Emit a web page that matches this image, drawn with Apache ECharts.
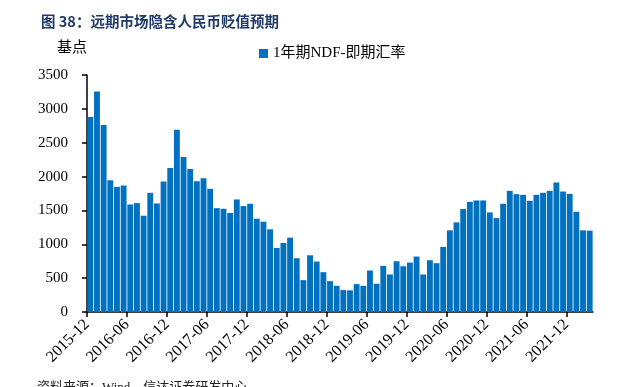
<!DOCTYPE html>
<html>
<head>
<meta charset="utf-8">
<script src="https://cdn.jsdelivr.net/npm/echarts@6/dist/echarts.min.js"></script>
<style>html,body{margin:0;padding:0;background:#fff;}#c{width:620px;height:387px;}</style>
</head>
<body>
<div id="c"></div>
<script>
// Months 2015-12 .. 2022-03 (76 bars)
var startYear = 2015, startMonth = 12, nBars = 76;
var months = [];
for (var i = 0; i <= nBars; i++) {
  var m = startMonth - 1 + i;
  var y = startYear + Math.floor(m / 12);
  var mm = (m % 12) + 1;
  months.push(y + '-' + (mm < 10 ? '0' + mm : mm));
}
var barMonths = months.slice(0, nBars);
var tickMonths = months; // 77 boundaries

var seriesName = '1年期NDF-即期汇率';
var values = [
  2880, 3255, 2760, 1946, 1848, 1868, 1588, 1608, 1422, 1760,
  1603, 1926, 2127, 2691, 2289, 2113, 1931, 1975, 1819, 1534,
  1524, 1461, 1662, 1564, 1598, 1377, 1333, 1221, 946, 1020,
  1098, 794, 471, 838, 745, 588, 456, 387, 324, 319,
  412, 387, 613, 417, 681, 554, 750, 676, 730, 819,
  554, 765, 721, 961, 1206, 1324, 1520, 1627, 1647, 1647,
  1471, 1387, 1598, 1789, 1740, 1730, 1642, 1730, 1760, 1789,
  1912, 1779, 1745, 1480, 1206, 1201
];
var yTicks = [0, 500, 1000, 1500, 2000, 2500, 3000, 3500];

var serif = '"Times New Roman","Liberation Serif","Noto Sans CJK SC",serif';
var chart = echarts.init(document.getElementById('c'));
chart.setOption({
  animation: false,
  backgroundColor: '#fff',
  title: {
    text: '图 38：远期市场隐含人民币贬值预期',
    left: 36, top: 9,
    textStyle: { fontSize: 14.5, fontWeight: 'bold', color: '#1f3a68', fontFamily: '"Noto Sans CJK SC","DejaVu Sans",sans-serif' }
  },
  legend: {
    left: 254, top: 41,
    icon: 'rect', itemWidth: 9, itemHeight: 9, itemGap: 10,
    textStyle: { fontSize: 15, color: '#000', fontFamily: serif },
    data: [seriesName]
  },
  graphic: [
    { type: 'text', left: 57, top: 41, style: { text: '基点', fontSize: 15, fill: '#000', fontFamily: serif } },
    { type: 'text', left: 37, top: 381, style: { text: '资料来源：Wind，信达证券研发中心', fontSize: 13, fill: '#222', fontFamily: serif } }
  ],
  grid: { left: 87, right: 27, top: 75, bottom: 75 },
  xAxis: [
    {
      type: 'category', data: barMonths, boundaryGap: true,
      axisLine: { show: false }, axisTick: { show: false }, axisLabel: { show: false }
    },
    {
      type: 'category', data: tickMonths, boundaryGap: false, position: 'bottom',
      axisLine: { show: true, onZero: false, lineStyle: { color: '#000', width: 1.5 } },
      axisTick: { show: true, length: 5, interval: function (idx) { return idx % 6 === 0; }, lineStyle: { color: '#000', width: 1.5 } },
      axisLabel: {
        interval: function (idx) { return idx % 6 === 0 && idx < nBars; },
        rotate: 45, fontSize: 16, color: '#000', fontFamily: serif, margin: 10
      },
      splitLine: { show: false }
    }
  ],
  yAxis: {
    type: 'value', min: yTicks[0], max: yTicks[yTicks.length - 1], interval: 500,
    axisLine: { show: true, lineStyle: { color: '#000', width: 1.5 } },
    axisTick: { show: true, length: 5, lineStyle: { color: '#000', width: 1.5 } },
    axisLabel: { fontSize: 15, color: '#000', fontFamily: serif, margin: 19, formatter: function (v) { return String(v); } },
    splitLine: { show: false }
  },
  series: [{
    name: seriesName, type: 'bar', xAxisIndex: 0, data: values,
    barCategoryGap: '12%',
    itemStyle: { color: '#0070C0' }
  }]
});
</script>
</body>
</html>
